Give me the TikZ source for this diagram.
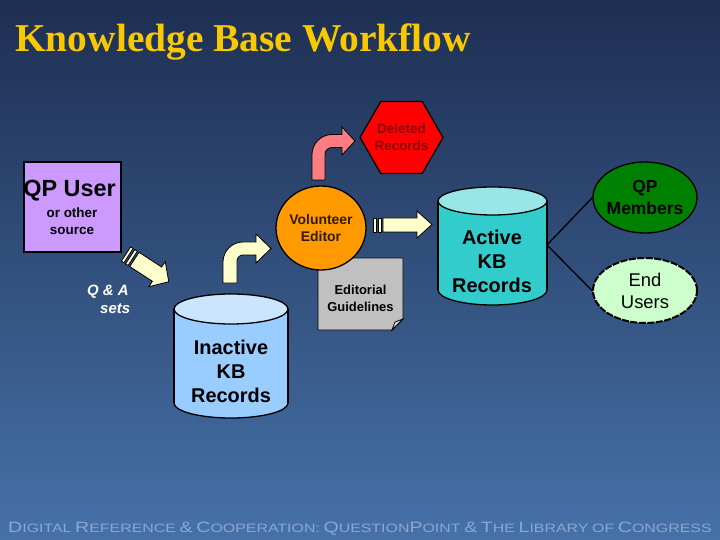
\documentclass[tikz,border=0pt]{standalone}
\usepackage{fontspec}
\setmainfont{Liberation Sans}
\newfontfamily\titlefont{Liberation Serif}
\usepackage{tikz}
\usetikzlibrary{shapes.geometric}

\definecolor{bgtop}{HTML}{1E2E52}
\definecolor{bgbot}{HTML}{4672A8}
\definecolor{titlegold}{HTML}{F8C800}
\definecolor{qppurple}{HTML}{CC99FF}
\definecolor{paleyellow}{HTML}{FFFFCC}
\definecolor{pinkarrow}{HTML}{FF7C80}
\definecolor{deepred}{HTML}{8A0000}
\definecolor{edorange}{HTML}{FF9900}
\definecolor{edtext}{HTML}{331A00}
\definecolor{notegray}{HTML}{C0C0C0}
\definecolor{inactbody}{HTML}{99CCFF}
\definecolor{inacttop}{HTML}{CCE5FF}
\definecolor{actbody}{HTML}{33CCCC}
\definecolor{acttop}{HTML}{99E6E6}
\definecolor{memgreen}{HTML}{008000}
\definecolor{palegreen}{HTML}{CCFFCC}
\definecolor{footblue}{HTML}{8AA8D2}

% footer small capitals
\newcommand{\fcap}[2]{{\fontsize{15}{15}\selectfont #1}{\fontsize{12.2}{15}\selectfont\MakeUppercase{#2}}}
\newcommand{\fsmall}[1]{{\fontsize{12.2}{15}\selectfont\MakeUppercase{#1}}}

\begin{document}
\begin{tikzpicture}[x=1bp,y=-1bp,
    outline/.style={draw=black,line width=1.3bp},
    blockarrow/.style={draw=black,line width=0.8bp,line join=miter,fill=#1},
    blockarrow/.default=paleyellow,
    boxtext/.style={align=center,inner sep=0pt,text=#1},
    boxtext/.default=black]
  % background
  \shade[top color=bgtop,bottom color=bgbot] (0,0) rectangle (720,540);
  \useasboundingbox (0,0) rectangle (720,540);
  % title
  \node[anchor=base west,inner sep=0pt,text=titlegold,
        font=\titlefont\bfseries\fontsize{39.6}{44}\selectfont] (title) at (15,52) {Knowledge Base Workflow};
  % source
  \node[outline,fill=qppurple,minimum width=97bp,minimum height=90bp,inner sep=0pt] (qpuser) at (72.5,207) {};
  \node[boxtext,font=\bfseries\fontsize{23.5}{24}\selectfont] (qpusertext) at (69.5,191) {QP User};
  \node[boxtext,font=\bfseries\fontsize{13.5}{17}\selectfont] (sourcetext) at (72,221.5) {or other\\source};
  % Q & A sets
  \begin{scope}[shift={(126,254)},rotate=-33]
    \draw[blockarrow] (0,-8.5) rectangle (3,8.5);
    \draw[blockarrow] (5,-8.5) rectangle (8,8.5);
    \draw[blockarrow] (10,-8.5) -- (37,-8.5) -- (37,-15) -- (51,0) -- (37,15) -- (37,8.5) -- (10,8.5) -- cycle;
  \end{scope}
  \node[anchor=west,align=left,inner sep=0pt,text=white,
        font=\bfseries\itshape\fontsize{15}{18}\selectfont] (qa) at (87,299) {Q \& A\\\hspace{13bp}sets};
  % inactive records
  \path[fill=inactbody,outline] (231,403) ellipse[x radius=57,y radius=15];
  \fill[inactbody] (174,309) rectangle (288,403);
  \draw[outline] (174,309) -- (174,403) (288,309) -- (288,403);
  \path[fill=inacttop,outline] (231,309) ellipse[x radius=57,y radius=15];
  \node[boxtext,font=\bfseries\fontsize{20}{24}\selectfont] (inactive) at (231,371) {Inactive\\KB\\Records};
  % up to the editor
  \draw[blockarrow] (223,283) -- (223,262) .. controls (223,251) and (232,242) .. (243,242) -- (256,242)
    -- (256,234) -- (271,248.5) -- (256,263) -- (256,255) -- (243,255)
    .. controls (239.7,255) and (237,257.7) .. (237,261) -- (237,283) -- cycle;
  % guidelines
  \draw[outline,line width=0.8bp,fill=notegray] (318,258) -- (403,258) -- (403,319) -- (392,330) -- (318,330) -- cycle;
  \draw[line width=0.8bp,fill=notegray!60!white] (403,319) -- (395,322) -- (392,330) -- cycle;
  \node[boxtext,font=\bfseries\fontsize{13}{17}\selectfont] (guide) at (360.5,298.5) {Editorial\\Guidelines};
  % editor
  \node[ellipse,outline,fill=edorange,minimum width=90bp,minimum height=84bp,inner sep=0pt] (editor) at (321,228) {};
  \node[boxtext=edtext,font=\bfseries\fontsize{14}{17}\selectfont] (editortext) at (editor) {Volunteer\\Editor};
  % deleted
  \draw[blockarrow=pinkarrow] (312,180) -- (312,154.5) .. controls (312,143.5) and (321,134.5) .. (332,134.5)
    -- (342,134.5) -- (342,127) -- (355,141) -- (342,155) -- (342,147.5) -- (332,147.5)
    .. controls (328.1,147.5) and (325,150.6) .. (325,154.5) -- (325,180) -- cycle;
  \node[regular polygon,regular polygon sides=6,minimum size=83bp,inner sep=0pt,outline,fill=red] (deleted) at (401.5,137.5) {};
  \node[boxtext=deepred,font=\bfseries\fontsize{13.5}{17}\selectfont] (deletedtext) at (deleted) {\color{deepred}Deleted\\\color{deepred}Records};
  % to active
  \draw[blockarrow] (373,218) rectangle (376,232);
  \draw[blockarrow] (378,218) rectangle (381,232);
  \draw[blockarrow] (383,218) -- (417,218) -- (417,211) -- (432,224.5) -- (417,238) -- (417,232) -- (383,232) -- cycle;
  % active records
  \path[fill=actbody,outline] (492.5,290) ellipse[x radius=54.5,y radius=15];
  \fill[actbody] (438,201) rectangle (547,290);
  \draw[outline] (438,201) -- (438,290) (547,201) -- (547,290);
  \path[fill=acttop,outline] (492.5,201) ellipse[x radius=54.5,y radius=14];
  \node[boxtext,font=\bfseries\fontsize{20}{24}\selectfont] (active) at (492,261) {Active\\KB\\Records};
  % users
  \node[ellipse,outline,fill=memgreen,minimum width=104bp,minimum height=71bp,inner sep=0pt] (members) at (645,197.5) {};
  \node[boxtext=black,font=\bfseries\fontsize{17.5}{22}\selectfont] (memberstext) at (members) {\color{black}QP\\\color{black}Members};
  \node[ellipse,outline,line width=2bp,dash pattern=on 7bp off 1.5bp,fill=palegreen,minimum width=104bp,
        minimum height=65bp,inner sep=0pt] (endusers) at (645,290.5) {};
  \node[boxtext,font=\fontsize{18.5}{22}\selectfont] (euserstext) at (endusers) {End\\Users};
  \coordinate (actside) at (547,245);
  \draw[outline] (actside) -- (members.west);
  \draw[outline] (actside) -- (endusers.west);
  % footer
  \node[anchor=base west,inner sep=0pt,text=footblue] (footer) at (8,532)
    {\scalebox{1.31}[1]{\fcap{D}{igital} \fcap{R}{eference} \fcap{\&}{} \fcap{C}{ooperation:} \fcap{Q}{uestion}\fcap{P}{oint}
     \fcap{\&}{} \fcap{T}{he} \fcap{L}{ibrary} \fsmall{of} \fcap{C}{ongress}}};
\end{tikzpicture}
\end{document}
